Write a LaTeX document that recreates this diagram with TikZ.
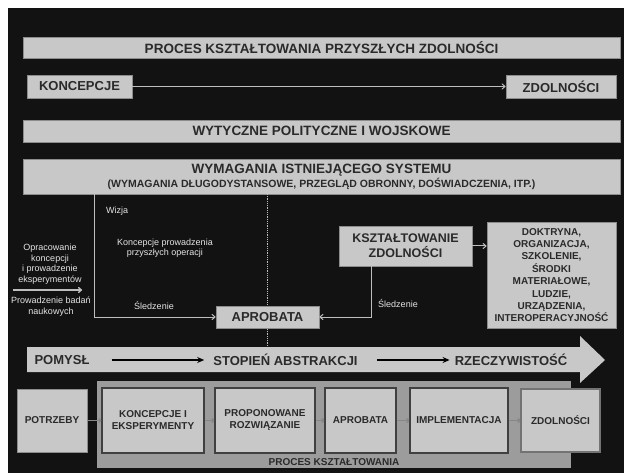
\documentclass[tikz,border=0pt]{standalone}
\usepackage{fontspec}
\setmainfont{Liberation Sans}
\usetikzlibrary{calc}
\usetikzlibrary{arrows.meta}

\definecolor{bgblack}{HTML}{121212}
\definecolor{boxgray}{HTML}{C8C8C8}
\definecolor{boxedge}{HTML}{8C8C8C}
\definecolor{procgray}{HTML}{9C9C9C}
\definecolor{textdark}{HTML}{2A2A2A}
\definecolor{linegray}{HTML}{BEBEBE}
\definecolor{notetext}{HTML}{E4E4E4}
\definecolor{stageline}{HTML}{878787}

\begin{document}
\begin{tikzpicture}[x=1pt,y=-1pt,
	box/.style={fill=boxgray,draw=boxedge,line width=0.8pt,text=textdark,inner sep=0pt,align=center,font=\bfseries\fontsize{13}{15}\selectfont},
	stagebox/.style={box,draw=black!75,line width=1.3pt,minimum height=65pt,font=\bfseries\fontsize{10}{12}\selectfont},
	note/.style={text=notetext,align=center,inner sep=0pt,font=\fontsize{9}{10.5}\selectfont},
	flowtext/.style={text=textdark,inner sep=0pt,font=\bfseries\fontsize{13}{15}\selectfont},
	thinarr/.style={draw=linegray,line width=1pt,-{To[length=4pt,width=6pt]}},
	flowarr/.style={draw=black,line width=1.4pt,-{Stealth[length=7pt,width=6pt]}},
	stagearr/.style={draw=stageline,line width=1.8pt,-{To[length=3pt,width=5pt]}}]
	\fill[white] (0,0) rectangle (624,473);
	\useasboundingbox (0,0) rectangle (624,473);
	\fill[bgblack] (8,8) rectangle (624,473);

	% top row
	\node[box,minimum width=597pt,minimum height=21pt,font=\bfseries\fontsize{13.5}{15}\selectfont] (title) at (321.5,47.5) {PROCES KSZTAŁTOWANIA PRZYSZŁYCH ZDOLNOŚCI};
	\node[box,minimum width=105pt,minimum height=23pt] (koncepcje) at (79.5,86.5) {KONCEPCJE};
	\node[box,minimum width=110pt,minimum height=23pt] (zdolnosci) at (561,86.5) {ZDOLNOŚCI};
	\draw[thinarr] (koncepcje) -- (zdolnosci);
	\node[box,minimum width=597pt,minimum height=22pt,font=\bfseries\fontsize{13.5}{15}\selectfont] (wytyczne) at (321.5,131) {WYTYCZNE POLITYCZNE I WOJSKOWE};
	\node[box,minimum width=597pt,minimum height=35pt,font=\bfseries\fontsize{13.5}{15}\selectfont] (wymagania) at (321.5,176.5) {WYMAGANIA ISTNIEJĄCEGO SYSTEMU\\[-1pt]{\fontsize{10.5}{12}\selectfont (WYMAGANIA DŁUGODYSTANSOWE, PRZEGLĄD OBRONNY, DOŚWIADCZENIA, ITP.)}};

	% middle part
	\coordinate (dottop) at (267,194);
	\coordinate (dotbot) at (267,348);
	\draw[linegray,densely dotted,line width=0.8pt] (dottop) -- (dotbot);
	\coordinate (wizjatop) at (94,194);
	\node[box,minimum width=103pt,minimum height=22pt] (aprobata) at (267.5,317) {APROBATA};
	\draw[thinarr] (wizjatop) |- (aprobata.west);
	\node[box,minimum width=133pt,minimum height=40pt,font=\bfseries\fontsize{12.5}{15}\selectfont] (ksztalt) at (405.5,246) {KSZTAŁTOWANIE\\ZDOLNOŚCI};
	\node[box,minimum width=129pt,minimum height=106pt,font=\bfseries\fontsize{10}{12.4}\selectfont] (dotmlpfi) at (551.5,275) {DOKTRYNA,\\ORGANIZACJA,\\SZKOLENIE,\\ŚRODKI\\MATERIAŁOWE,\\LUDZIE,\\URZĄDZENIA,\\INTEROPERACYJNOŚĆ};
	\draw[thinarr] (ksztalt) -- (ksztalt -| dotmlpfi.west);
	\coordinate (sledtop) at (371,266);
	\draw[thinarr] (sledtop) |- (aprobata.east);

	\node[note,anchor=west] (wizja) at (106,211) {Wizja};
	\node[note] (przyszle) at (165,248) {Koncepcje prowadzenia\\przyszłych operacji};
	\node[note] (opracowanie) at (50,264) {Opracowanie\\koncepcji\\i prowadzenie\\eksperymentów};
	\coordinate (badstart) at (13,290);
	\coordinate (badend) at (82,290);
	\draw[thinarr,line width=1.4pt] (badstart) -- (badend);
	\node[note] (badania) at (51,306.5) {Prowadzenie badań\\naukowych};
	\node[note] (sledz1) at (154,306) {Śledzenie};
	\node[note] (sledz2) at (398,304) {Śledzenie};

	% big arrow
	\fill[boxgray] (27,347) -- (580,347) -- (580,336) -- (605,360) -- (580,383) -- (580,372) -- (27,372) -- cycle;
	\node[flowtext] (pomysl) at (62,360) {POMYSŁ};
	\node[flowtext] (stopien) at (285.5,360) {STOPIEŃ ABSTRAKCJI};
	\node[flowtext] (rzecz) at (511,360) {RZECZYWISTOŚĆ};
	\draw[flowarr,shorten <=22pt,shorten >=9pt] (pomysl) -- (stopien);
	\draw[flowarr,shorten <=19pt,shorten >=5pt] (stopien) -- (rzecz);

	% bottom row
	\fill[procgray] (97,381) rectangle (571,468);
	\node[text=textdark,inner sep=0pt,font=\bfseries\fontsize{10}{12}\selectfont] (proces) at (334,462) {PROCES KSZTAŁTOWANIA};
	\node[box,draw=boxedge,line width=1pt,minimum width=70pt,minimum height=63pt,font=\bfseries\fontsize{10}{12}\selectfont] (potrzeby) at (52,420.5) {POTRZEBY};
	\node[stagebox,minimum width=102pt] (konceks) at (153,420.5) {KONCEPCJE I\\EKSPERYMENTY};
	\node[stagebox,minimum width=100pt] (propon) at (265,420.5) {PROPONOWANE\\ROZWIĄZANIE};
	\node[stagebox,minimum width=71pt] (aprob) at (360.5,420.5) {APROBATA};
	\node[stagebox,minimum width=98pt] (implem) at (459,420.5) {IMPLEMENTACJA};
	\node[stagebox,draw=black!55,minimum width=79pt,minimum height=63pt] (zdoln) at (560.5,420.5) {ZDOLNOŚCI};
	\draw[stagearr] (potrzeby) -- (konceks);
	\draw[stagearr] (konceks) -- (propon);
	\draw[stagearr] (propon) -- (aprob);
	\draw[stagearr] (aprob) -- (implem);
	\draw[stagearr] (implem) -- (zdoln);
\end{tikzpicture}
\end{document}
